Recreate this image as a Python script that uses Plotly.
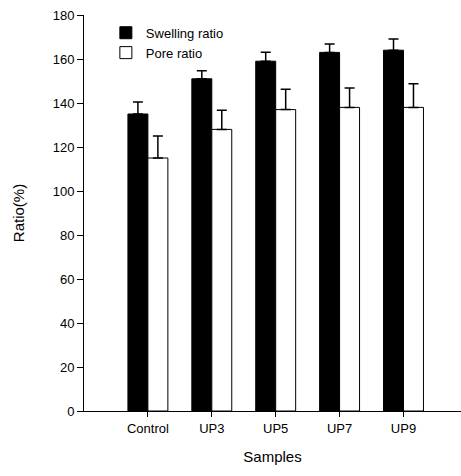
import plotly.graph_objects as go

categories = ["Control", "UP3", "UP5", "UP7", "UP9"]
swelling = [135, 151, 159, 163, 164]
swelling_err = [5.5, 3.7, 4.1, 3.8, 5.1]
pore = [115, 128, 137, 138, 138]
pore_err = [10, 8.7, 9.2, 8.8, 10.7]
y_ticks = [0, 20, 40, 60, 80, 100, 120, 140, 160, 180]

font = "Liberation Sans, Arial, sans-serif"

fig = go.Figure()
fig.add_trace(go.Bar(
    x=categories, y=swelling, name="Swelling ratio",
    marker=dict(color="black", line=dict(color="black", width=1)),
    error_y=dict(type="data", array=swelling_err, arrayminus=[0]*5, symmetric=False,
                 color="black", thickness=1.5, width=5),
))
fig.add_trace(go.Bar(
    x=categories, y=pore, name="Pore ratio",
    marker=dict(color="white", line=dict(color="black", width=1)),
    error_y=dict(type="data", array=pore_err, arrayminus=[0]*5, symmetric=False,
                 color="black", thickness=1.5, width=5),
))

fig.update_layout(
    width=461, height=476,
    margin=dict(l=84, r=0, t=15, b=65),
    paper_bgcolor="white", plot_bgcolor="white",
    barmode="group", bargap=0.375, bargroupgap=0,
    font=dict(family=font, size=13, color="black"),
    showlegend=True,
    legend=dict(x=0.058, y=0.993, xanchor="left", yanchor="top",
                bgcolor="rgba(0,0,0,0)", font=dict(size=13), tracegroupgap=0),
    xaxis=dict(
        type="category", range=[-1, 4.9], automargin=False,
        showline=True, linecolor="black", linewidth=1, mirror=False,
        ticks="outside", ticklen=5, tickcolor="black",
        title=dict(text="Samples", font=dict(size=15), standoff=16),
        tickfont=dict(size=13),
    ),
    yaxis=dict(
        range=[0, 180], tickvals=y_ticks, automargin=False,
        showline=True, linecolor="black", linewidth=1, mirror=True,
        ticks="outside", ticklen=6, tickcolor="black",
        showgrid=False, zeroline=False,
        title=dict(text="Ratio(%)", font=dict(size=15), standoff=24),
        tickfont=dict(size=13),
    ),
)

fig.write_html("out.html", config={"displayModeBar": False},
               post_script="document.body.style.margin='0';")
